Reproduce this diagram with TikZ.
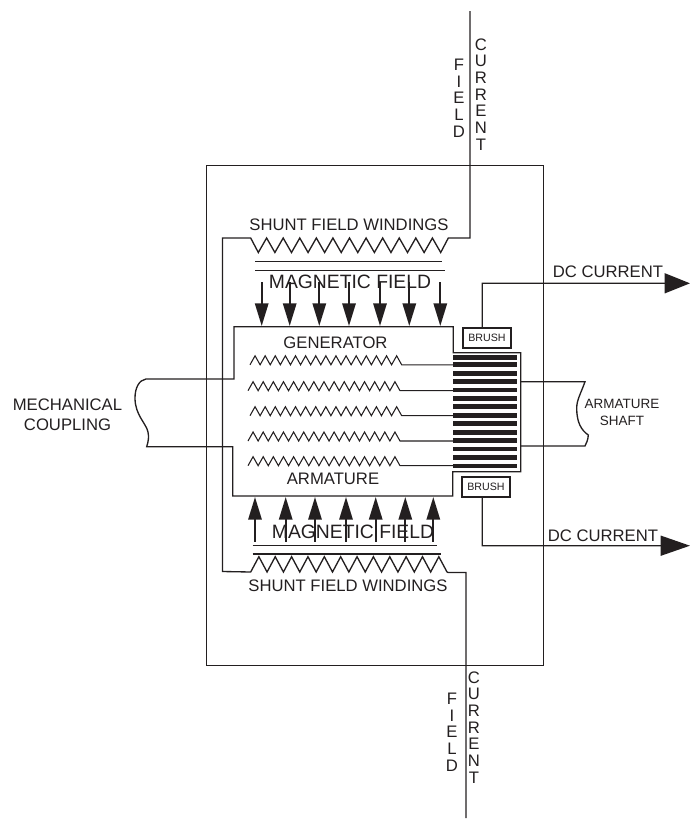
\documentclass[tikz,border=0pt]{standalone}
\usepackage{fontspec}
\setmainfont{Liberation Sans}
\usetikzlibrary{arrows.meta,calc}
\definecolor{ink}{HTML}{231F20}
\tikzset{
  wire/.style={draw=ink,line width=1pt,line join=miter},
  lbl/.style={text=ink,inner sep=0pt,font=\fontsize{12.5pt}{15pt}\selectfont},
  maglbl/.style={text=ink,inner sep=0pt,font=\fontsize{14.5pt}{17pt}\selectfont},
  smalllbl/.style={text=ink,inner sep=0pt,align=center,font=\fontsize{10.1pt}{12.75pt}\selectfont},
  vert/.style={text=ink,inner sep=0pt,align=center,font=\fontsize{12.5pt}{12.5pt}\selectfont},
  flux/.style={draw=ink,line width=1.5pt,-{Triangle[length=17pt,width=10pt]}},
  dcarrow/.style={draw=ink,line width=1pt,-{Triangle[length=#1,width=15pt]}},
  brushbox/.style={draw=ink,line width=1pt,fill=white,inner sep=0pt,minimum width=36pt,minimum height=15pt,text=ink,font=\fontsize{8pt}{10pt}\selectfont}
}
\begin{document}
\begin{tikzpicture}[x=0.75pt,y=-0.75pt]
\useasboundingbox (0,0) rectangle (690,819);
% outer frame
\node[draw=ink,line width=0.85pt,minimum width=252.75pt,minimum height=375pt,inner sep=0pt,anchor=north west] (frame) at (206,165) {};
% field winding circuit
\coordinate (ttop) at (470,11);
\coordinate (tcorner) at (470,238);
\coordinate (tleft) at (222.5,238);
\coordinate (bleft) at (222.5,571.5);
\coordinate (bcorner) at (466,572.5);
\coordinate (bend) at (466,818);
\draw[wire] (ttop) -- (tcorner) -- (448.3,238) -- (440.7,252.5)
  \foreach \i in {1,...,11}{ -- ++(-8.29,-14.5) -- ++(-8.29,14.5)} -- (250.7,238) -- (tleft) -- (bleft) -- (250.7,572)
  \foreach \i in {1,...,12}{ -- ++(8.18,-15.3) -- ++(8.18,15.3)} -- (448.3,572.5) -- (bcorner) -- (bend);
\node[lbl] (stop) at (349,225) {SHUNT FIELD WINDINGS};
\node[lbl] (sbot) at (348,586) {SHUNT FIELD WINDINGS};
\draw[wire] (255,261.7) -- (441.7,261.7);
\draw[wire] (255,270.7) -- (445,270.7);
\draw[wire] (252.7,545.7) -- (436.7,545.7);
\draw[wire] (252.7,554) -- (440.7,554);
\node[maglbl] (mt) at (350,282) {MAGNETIC FIELD};
\node[maglbl] (mb) at (353,532) {MAGNETIC FIELD};
% flux arrows
\foreach \x in {261.7,289.7,319.3,349,380,409.3,440.3}{\draw[flux] (\x,282) -- (\x,326);}
\foreach \x in {255,285.7,315,346,375.7,405.3,433.3}{\draw[flux] (\x,541.7) -- (\x,497);}
% armature body with coupling and commutator housing
\coordinate (ml1) at (146,379);
\coordinate (ml2) at (146.7,446.7);
\draw[wire] (ml1) -- (234,379) -- (234,326.7) -- (453.3,326.7) -- (453.3,352.7) -- (520.7,352.7) -- (520.7,471.7) -- (452.7,471.7) -- (452.7,496) -- (232.7,496) -- (232.7,446.7) -- (ml2)
  .. controls (148.5,441) and (149,437) .. (148,432) .. controls (146,423) and (135,415) .. (135,398) .. controls (135,388) and (139,380) .. (ml1);
\node[lbl,align=center,font=\fontsize{12.5pt}{15.2pt}\selectfont] (coupling) at (67.5,414.5) {MECHANICAL\\COUPLING};
% armature shaft
\coordinate (sh1) at (520.7,381.7);
\coordinate (sh2) at (520.7,446);
\draw[wire] (sh1) -- (585,381.7) .. controls (581,393) and (576.7,400) .. (576.7,408) .. controls (576.7,422) and (581,430) .. (588.3,435) .. controls (588,440) and (586.5,443) .. (585,446) -- (sh2);
\node[smalllbl] (shaft) at (622,412.5) {ARMATURE\\SHAFT};
\node[lbl] (gen) at (335.5,343) {GENERATOR};
\node[lbl] (arm) at (333,479) {ARMATURE};
% armature coils
\foreach \yy/\xs/\xe in {364.8/250/401.7,390.7/248/400,415.7/250/401.7,441/248/400,465.7/248/400}{
 \pgfmathsetmacro{\stp}{(\xe-\xs)/15}
 \draw[wire,line width=0.8pt] (\xs,\yy)
 \foreach \i in {1,...,15}{ -- ++(\stp*0.5,-9) -- ++(\stp*0.5,9)} -- (453,\yy);
}
% commutator
\foreach \y in {357.7,364.7,373.3,381.7,390,398.3,406.7,415.3,423.7,432.3,440.7,449,457.3,466}{\fill[ink] (453.3,\y-2.4) rectangle (516.7,\y+2.4);}
% brushes
\node[brushbox] (bt) at (487,338) {BRUSH};
\node[brushbox] (bb) at (486,487) {BRUSH};
\coordinate (dc1tip) at (690,283.3);
\coordinate (dc2tip) at (690,545.7);
\draw[dcarrow=19pt] ($(bt.north)+(-4.7,0)$) -- (482.3,283.3) -- (dc1tip);
\draw[dcarrow=22pt] ($(bb.south)+(-3.7,0)$) -- (482.3,545.7) -- (dc2tip);
\node[lbl] (dc1) at (608,272) {DC CURRENT};
\node[lbl] (dc2) at (603,536) {DC CURRENT};
\node[vert] (ftop) at (459,98) {F\\I\\E\\L\\D};
\node[vert] (ctop) at (481,94.5) {C\\U\\R\\R\\E\\N\\T};
\node[vert] (fbot) at (452,732) {F\\I\\E\\L\\D};
\node[vert] (cbot) at (474,727.5) {C\\U\\R\\R\\E\\N\\T};
\end{tikzpicture}
\end{document}
